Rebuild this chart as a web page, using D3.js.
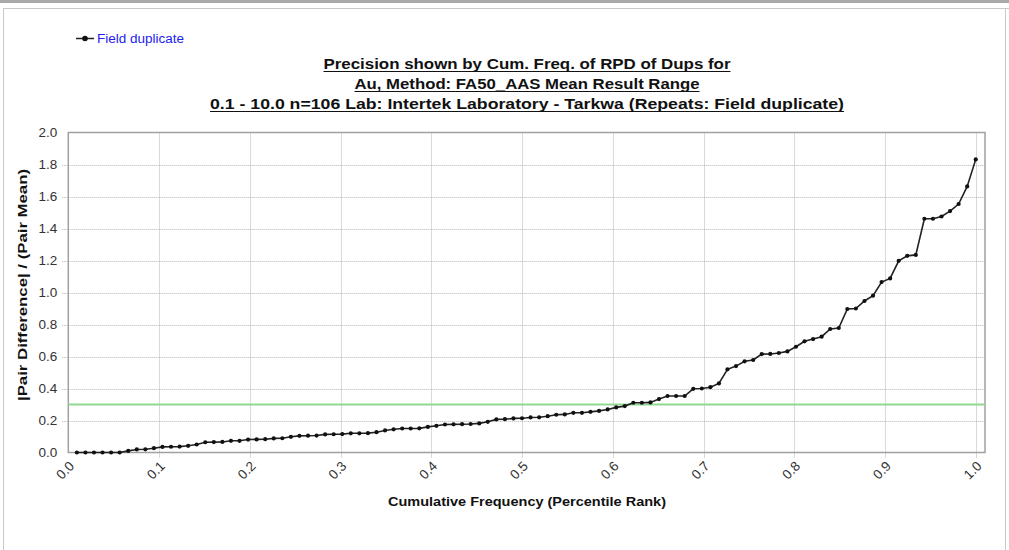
<!DOCTYPE html>
<html>
<head>
<meta charset="utf-8">
<script src="https://cdn.jsdelivr.net/npm/d3@7"></script>
<style>
  html, body { margin: 0; padding: 0; background: #fff; }
  svg { display: block; }
  text { font-family: "Liberation Sans", Arial, sans-serif; }
</style>
</head>
<body>
<svg id="chart" width="1009" height="550"></svg>
<script>
// ---------- data ----------
const seriesName = "Field duplicate";
const titleLines = [
  "Precision shown by Cum. Freq. of RPD of Dups for",
  "Au, Method: FA50_AAS Mean Result Range",
  "0.1 - 10.0 n=106 Lab: Intertek Laboratory - Tarkwa (Repeats: Field duplicate)"
];
const xAxisTitle = "Cumulative Frequency (Percentile Rank)";
const yAxisTitle = "|Pair Difference| / (Pair Mean)";
const xTicks = [0.0, 0.1, 0.2, 0.3, 0.4, 0.5, 0.6, 0.7, 0.8, 0.9, 1.0];
const yTicks = [0.0, 0.2, 0.4, 0.6, 0.8, 1.0, 1.2, 1.4, 1.6, 1.8, 2.0];
const thresholdValue = 0.3;
// RPD values (sorted), n = 106
const rpdValues = [
  0, 0, 0, 0, 0, 0, 0.010, 0.019, 0.020, 0.027,
  0.035, 0.036, 0.037, 0.042, 0.050, 0.064, 0.065, 0.066, 0.073, 0.073,
  0.081, 0.082, 0.083, 0.088, 0.089, 0.098, 0.104, 0.105, 0.106, 0.113,
  0.114, 0.115, 0.120, 0.120, 0.121, 0.127, 0.138, 0.145, 0.150, 0.150,
  0.151, 0.160, 0.167, 0.175, 0.176, 0.177, 0.178, 0.182, 0.192, 0.207,
  0.208, 0.213, 0.214, 0.219, 0.220, 0.227, 0.236, 0.238, 0.248, 0.248,
  0.254, 0.260, 0.269, 0.282, 0.290, 0.311, 0.311, 0.313, 0.334, 0.353,
  0.353, 0.353, 0.398, 0.400, 0.408, 0.432, 0.520, 0.540, 0.570, 0.578,
  0.615, 0.616, 0.622, 0.632, 0.661, 0.695, 0.709, 0.724, 0.772, 0.778,
  0.897, 0.900, 0.947, 0.980, 1.065, 1.088, 1.198, 1.229, 1.235, 1.461,
  1.461, 1.475, 1.509, 1.553, 1.663, 1.832
];
// percentile rank for each sorted value
const percentileRanks = rpdValues.map((v, i) => (i + 1) / rpdValues.length);

// ---------- layout ----------
const svg = d3.select("#chart");
const W = 1009, H = 550;
const plot = { left: 68.3, right: 985, top: 132.5, bottom: 452.5 };

svg.append("rect").attr("width", W).attr("height", H).attr("fill", "#fff");

// outer frame
svg.append("rect").attr("x", 0).attr("y", 0).attr("width", W).attr("height", 3).attr("fill", "#a9a9a9");
svg.append("line").attr("x1", 3).attr("x2", W).attr("y1", 8.5).attr("y2", 8.5).attr("stroke", "#c8c8c8");
svg.append("line").attr("x1", 3.5).attr("x2", 3.5).attr("y1", 8.5).attr("y2", H).attr("stroke", "#c8c8c8");
svg.append("line").attr("x1", 1005.5).attr("x2", 1005.5).attr("y1", 8.5).attr("y2", H).attr("stroke", "#c8c8c8");

const x = d3.scaleLinear().domain([0, 1.0102]).range([plot.left, plot.right]);
const y = d3.scaleLinear().domain([0, 2.0]).range([plot.bottom, plot.top]);

// grid lines (dotted, extending a little outside as tick marks)
const grid = svg.append("g");
grid.selectAll("line.vg").data(xTicks.filter(t => t > 0)).enter().append("line")
  .attr("x1", d => Math.round(x(d)) + 0.5).attr("x2", d => Math.round(x(d)) + 0.5)
  .attr("y1", plot.top).attr("y2", plot.bottom + 5)
  .attr("stroke", "#b4b4b4").attr("stroke-dasharray", "1,1");
grid.selectAll("line.hg").data(yTicks.filter(t => t > 0 && t < 2)).enter().append("line")
  .attr("x1", plot.left - 6).attr("x2", plot.right)
  .attr("y1", d => Math.round(y(d)) + 0.5).attr("y2", d => Math.round(y(d)) + 0.5)
  .attr("stroke", "#b4b4b4").attr("stroke-dasharray", "1,1");

// axes via d3 (labels only, domain hidden)
const yAxis = svg.append("g").attr("transform", `translate(${plot.left},0)`)
  .call(d3.axisLeft(y).tickValues(yTicks).tickFormat(d3.format(".1f")).tickSize(0).tickPadding(11));
yAxis.select(".domain").remove();
yAxis.selectAll("text").attr("font-size", 13.5).attr("fill", "#333").attr("font-family", "Liberation Sans, Arial, sans-serif");

const xAxis = svg.append("g").attr("transform", `translate(0,${plot.bottom})`)
  .call(d3.axisBottom(x).tickValues(xTicks).tickFormat(d3.format(".1f")).tickSize(0));
xAxis.select(".domain").remove();
xAxis.selectAll("text")
  .attr("font-size", 13.5).attr("fill", "#333").attr("font-family", "Liberation Sans, Arial, sans-serif")
  .attr("text-anchor", "end")
  .attr("transform", "translate(3,11) rotate(-45)")
  .attr("dy", "0.35em").attr("y", 0).attr("x", 0);

// plot border
svg.append("rect").attr("x", plot.left).attr("y", plot.top)
  .attr("width", plot.right - plot.left).attr("height", plot.bottom - plot.top)
  .attr("fill", "none").attr("stroke", "#a0a0a0").attr("stroke-width", 1.5);

// threshold line
svg.append("line").attr("x1", plot.left).attr("x2", plot.right)
  .attr("y1", y(thresholdValue)).attr("y2", y(thresholdValue))
  .attr("stroke", "#8fd98f").attr("stroke-width", 2);

// series
const pts = rpdValues.map((v, i) => [percentileRanks[i], v]);
svg.append("path").datum(pts)
  .attr("d", d3.line().x(d => x(d[0])).y(d => y(d[1])))
  .attr("fill", "none").attr("stroke", "#222").attr("stroke-width", 1.6);
svg.append("g").selectAll("circle").data(pts).enter().append("circle")
  .attr("cx", d => x(d[0])).attr("cy", d => y(d[1])).attr("r", 2.1).attr("fill", "#111");

// legend
const lg = svg.append("g");
lg.append("line").attr("x1", 76).attr("x2", 94).attr("y1", 38.5).attr("y2", 38.5).attr("stroke", "#222").attr("stroke-width", 1.5);
lg.append("circle").attr("cx", 85).attr("cy", 38.5).attr("r", 2.8).attr("fill", "#111");
lg.append("text").attr("x", 97).attr("y", 43).attr("font-size", 12).attr("fill", "#2222ee")
  .attr("textLength", 87).attr("lengthAdjust", "spacingAndGlyphs").text(seriesName);

// title
const titleY = [69, 89, 109];
const titleW = [407, 345, 634];
titleLines.forEach((t, i) => {
  const cx = 527;
  svg.append("text").attr("x", cx).attr("y", titleY[i]).attr("text-anchor", "middle")
    .attr("font-size", 14).attr("font-weight", "bold").attr("fill", "#111")
    .attr("textLength", titleW[i]).attr("lengthAdjust", "spacingAndGlyphs").text(t);
  svg.append("line").attr("x1", cx - titleW[i] / 2).attr("x2", cx + titleW[i] / 2)
    .attr("y1", titleY[i] + 2.5).attr("y2", titleY[i] + 2.5).attr("stroke", "#111").attr("stroke-width", 1);
});

// axis titles
svg.append("text").attr("x", 527).attr("y", 506).attr("text-anchor", "middle")
  .attr("font-size", 13).attr("font-weight", "bold").attr("fill", "#111")
  .attr("textLength", 278).attr("lengthAdjust", "spacingAndGlyphs").text(xAxisTitle);
svg.append("text").attr("transform", "translate(27,285) rotate(-90)").attr("text-anchor", "middle")
  .attr("font-size", 13).attr("font-weight", "bold").attr("fill", "#111")
  .attr("textLength", 232).attr("lengthAdjust", "spacingAndGlyphs").text(yAxisTitle);
</script>
</body>
</html>
